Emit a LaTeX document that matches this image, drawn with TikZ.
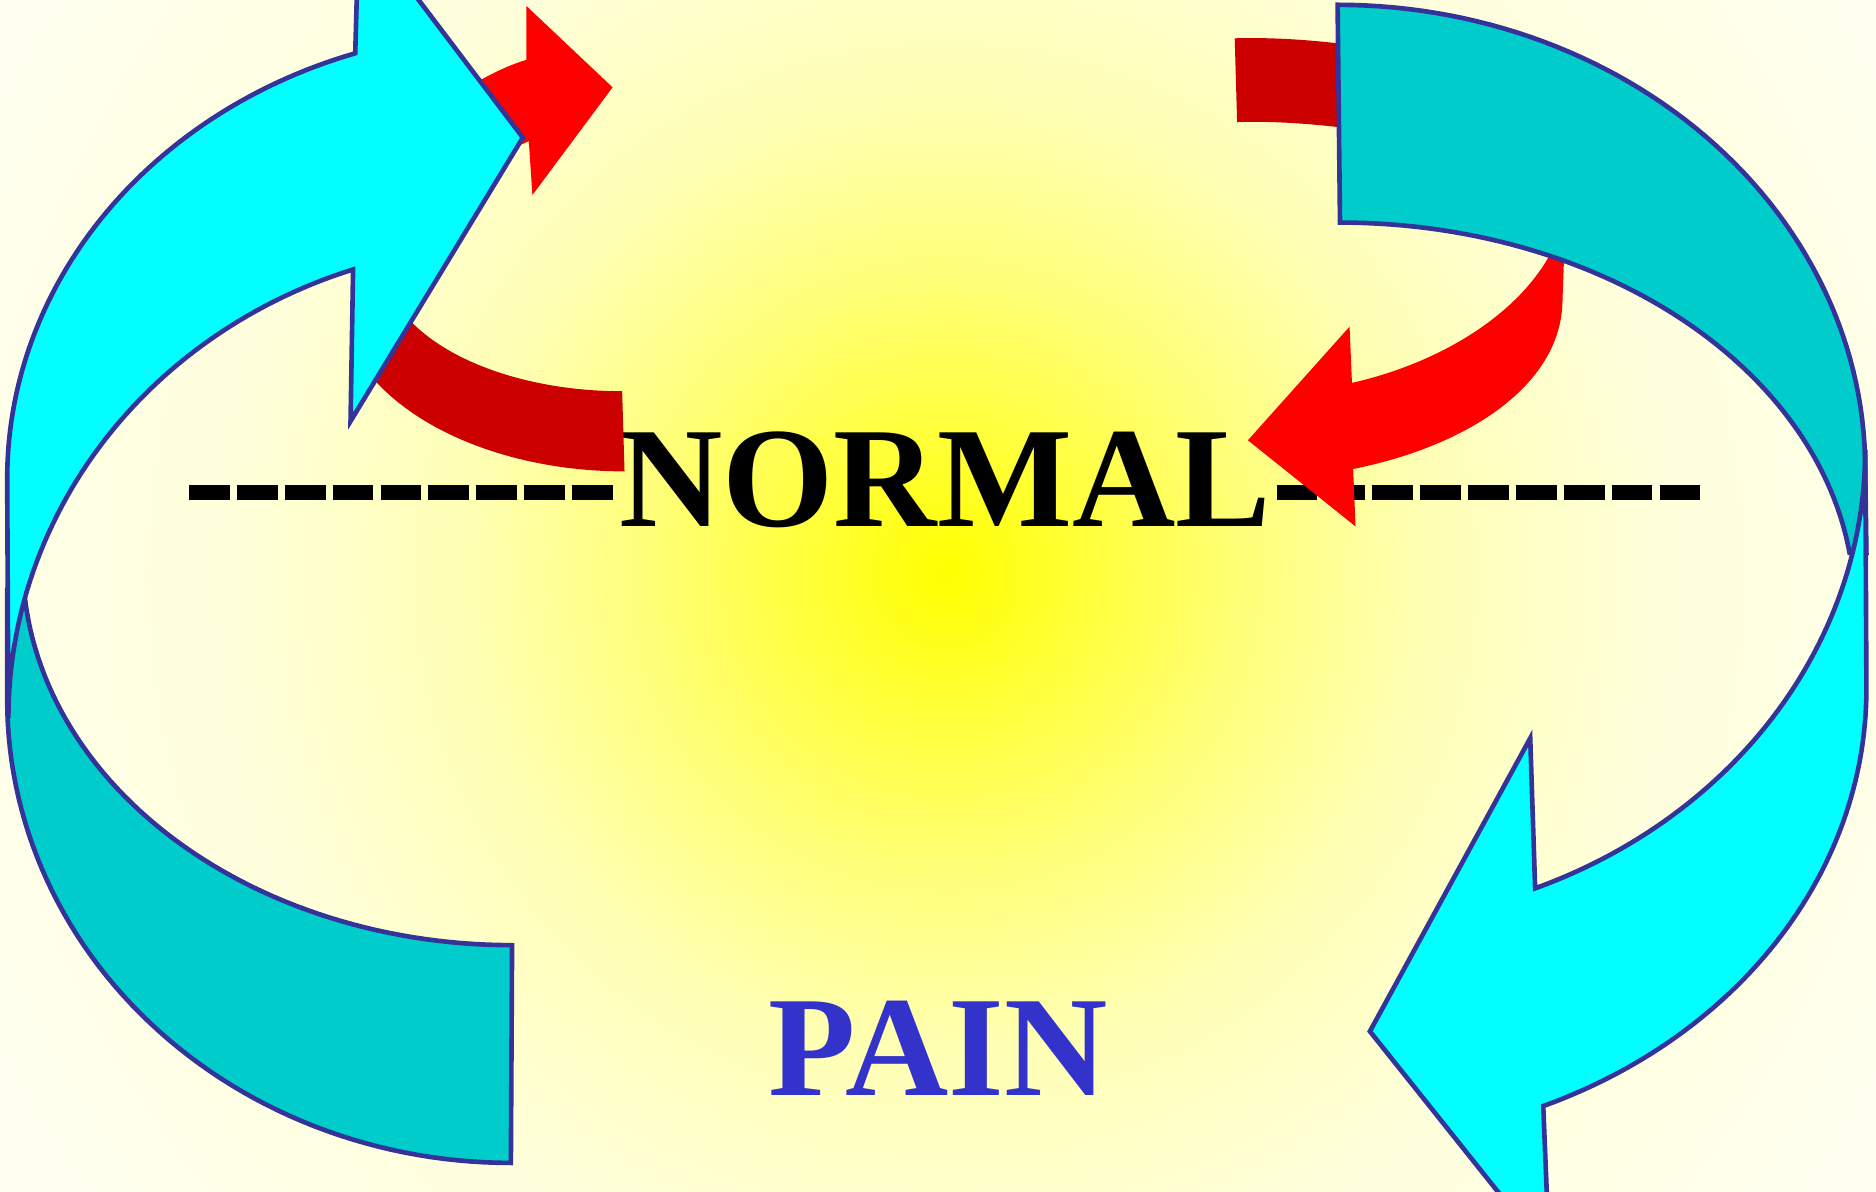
\documentclass[tikz,border=0pt]{standalone}
\usepackage{fontspec}
\setmainfont{Liberation Serif}
\definecolor{bgA}{RGB}{255,255,0}
\definecolor{bgB}{RGB}{255,255,50}
\definecolor{bgC}{RGB}{255,255,120}
\definecolor{bgD}{RGB}{255,255,180}
\definecolor{bgE}{RGB}{255,255,220}
\definecolor{bgF}{RGB}{255,255,240}
\definecolor{outl}{RGB}{51,51,153}
\definecolor{cyanA}{RGB}{0,255,255}
\definecolor{tealA}{RGB}{0,204,204}
\definecolor{redA}{RGB}{255,0,0}
\definecolor{redB}{RGB}{204,0,0}
\definecolor{painblue}{RGB}{51,51,204}
\pgfdeclareradialshading{bgshade}{\pgfpoint{0bp}{0bp}}{color(0bp)=(bgA); color(2.8bp)=(bgB); color(6.9bp)=(bgC); color(11.1bp)=(bgD); color(16.7bp)=(bgE); color(25bp)=(bgF); color(50bp)=(bgF)}
\begin{document}
\begin{tikzpicture}[x=0.01cm,y=-0.01cm,
  cyanfront/.style={fill=cyanA,draw=outl,line width=1.1pt,line join=miter},
  tealback/.style={fill=tealA,draw=outl,line width=1.1pt,line join=miter},
  redfront/.style={fill=redA},
  redback/.style={fill=redB},
  dashline/.style={line width=0.13cm,dash pattern=on 0.34cm off 0.06cm},
  lbl/.style={inner sep=0pt,font=\fontsize{34}{40}\selectfont\bfseries}]
\useasboundingbox (0,0) rectangle (1568,996);
\clip (0,0) rectangle (1568,996);
% background
\fill[bgF] (0,0) rectangle (1568,996);
\shade[shading=bgshade] (790,480) circle[radius=9cm];
% texts
\coordinate (dl1) at (158,411.5);
\coordinate (dl2) at (513,411.5);
\coordinate (dr1) at (1067,411.5);
\coordinate (dr2) at (1422,411.5);
\draw[dashline] (dl1) -- (dl2);
\draw[dashline] (dr1) -- (dr2);
\node[lbl,anchor=base] (normal) at (790,440) {NORMAL};
\node[lbl,anchor=base,text=painblue] (pain) at (784,916) {PAIN};
% red arrows
\fill[redback] (520,327) -- (522,394)
  -- plot[domain=90:157,samples=40] ({522+240*cos(\x)},{244+150*sin(\x)})
  -- (332,255)
  -- plot[domain=160:90,samples=40] ({520+200*cos(\x)},{217+110*sin(\x)}) -- cycle;
\fill[redfront] (380,80) .. controls (400,67) and (420,56) .. (440,50)
  -- (440,5) -- (512,73) -- (445,163) -- (442,118) -- (415,130) -- cycle;
\fill[redback] (1032,32) .. controls (1070,31) and (1110,34) .. (1160,42)
  -- (1160,112) .. controls (1110,104) and (1070,101) .. (1034,102) -- cycle;
\fill[redfront] (1297,195) -- (1308,195) -- (1306,250)
  .. controls (1306,320) and (1230,372) .. (1131,392)
  -- (1133,440) -- (1043,368) -- (1128,273) -- (1130,320)
  .. controls (1205,303) and (1270,262) .. (1297,210) -- cycle;
% left shape
\filldraw[tealback] (6,493) -- (6,585)
  -- plot[domain=180:90,samples=60] ({427+421*cos(\x)},{585+387*sin(\x)})
  -- (428,790)
  -- plot[domain=90:175.9,samples=60] ({428+409*cos(\x)},{470+320*sin(\x)}) -- cycle;
\filldraw[cyanfront] plot[domain=251.9:180,samples=60] ({428+422*cos(\x)},{400+374*sin(\x)})
  -- (7,600)
  -- plot[domain=180:251.6,samples=60] ({428+421*cos(\x)},{600+395*sin(\x)})
  -- (293,352) -- (437,115) -- (300,-66) -- cycle;
% right shape
\filldraw[tealback] plot[domain=-90:0,samples=60] ({1118+441*cos(\x)},{392+388*sin(\x)})
  -- (1560,462)
  -- plot[domain=-7.9:-90,samples=60] ({1120+430*cos(\x)},{506+320*sin(\x)}) -- cycle;
\filldraw[cyanfront] plot[domain=67.2:0,samples=60] ({1119+441*cos(\x)},{576+378*sin(\x)})
  -- (1559,376)
  -- plot[domain=0:68.1,samples=60] ({1119+440*cos(\x)},{376+395*sin(\x)})
  -- (1279,617) -- (1145,862) -- (1295,1050) -- cycle;
\end{tikzpicture}
\end{document}
